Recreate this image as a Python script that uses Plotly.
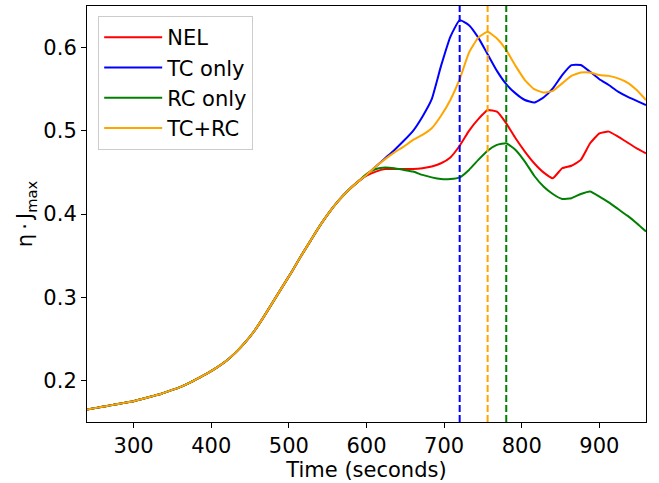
import plotly.graph_objects as go

time_s = [240, 252, 264, 276, 288, 300, 312, 324, 336, 348, 360, 372, 384, 396, 408,
          420, 432, 444, 456, 468, 480, 492, 504, 516, 528, 540, 552, 564, 576, 588,
          600, 612, 624, 636, 648, 660, 672, 684, 696, 708, 720, 732, 744, 756, 768,
          780, 792, 804, 816, 828, 840, 852, 864, 876, 888, 900, 912, 924, 936, 948, 960]

common = [0.165, 0.167, 0.169, 0.171, 0.173, 0.175, 0.178, 0.181, 0.184, 0.188,
          0.192, 0.197, 0.203, 0.209, 0.216, 0.224, 0.234, 0.246, 0.260, 0.277,
          0.295, 0.313, 0.331, 0.350, 0.368, 0.386, 0.402, 0.416, 0.428, 0.438]

nel_tail = [0.446, 0.451, 0.454, 0.454, 0.454, 0.454, 0.455, 0.457, 0.461, 0.468,
            0.482, 0.500, 0.514, 0.525, 0.523, 0.509, 0.491, 0.475, 0.461, 0.450,
            0.443, 0.455, 0.458, 0.465, 0.485, 0.497, 0.499, 0.493, 0.486, 0.479, 0.473]
tc_tail = [0.447, 0.457, 0.467, 0.477, 0.488, 0.500, 0.517, 0.538, 0.578, 0.613,
           0.633, 0.627, 0.612, 0.592, 0.572, 0.556, 0.545, 0.537, 0.534, 0.540,
           0.551, 0.567, 0.579, 0.579, 0.571, 0.562, 0.555, 0.547, 0.541, 0.536, 0.531]
rc_tail = [0.448, 0.454, 0.456, 0.455, 0.453, 0.451, 0.447, 0.444, 0.442, 0.442,
           0.444, 0.453, 0.465, 0.476, 0.483, 0.485, 0.477, 0.463, 0.446, 0.433,
           0.424, 0.418, 0.419, 0.424, 0.427, 0.421, 0.414, 0.406, 0.398, 0.389, 0.379]
tcrc_tail = [0.447, 0.457, 0.466, 0.474, 0.481, 0.489, 0.495, 0.503, 0.518, 0.537,
             0.562, 0.594, 0.612, 0.619, 0.611, 0.597, 0.578, 0.561, 0.550, 0.546,
             0.548, 0.557, 0.566, 0.570, 0.570, 0.567, 0.566, 0.563, 0.558, 0.549, 0.537]

nel = common + nel_tail
tc_only = common + tc_tail
rc_only = common + rc_tail
tc_rc = common + tcrc_tail

series_names = ["NEL", "TC only", "RC only", "TC+RC"]
series_values = [nel, tc_only, rc_only, tc_rc]
series_colors = ["#ff0000", "#0000ff", "#008000", "#ffa500"]

peak_times = [720, 756, 780]
peak_colors = ["#0000ff", "#ffa500", "#008000"]

x_ticks = [300, 400, 500, 600, 700, 800, 900]
y_ticks = [0.2, 0.3, 0.4, 0.5, 0.6]

FONT = "DejaVu Sans"
FS = 21

fig = go.Figure()
for name, vals, col in zip(series_names, series_values, series_colors):
    fig.add_trace(go.Scatter(x=time_s, y=vals, mode="lines", name=name,
                             line=dict(color=col, width=2, shape="spline", smoothing=0.4)))

for t, col in zip(peak_times, peak_colors):
    fig.add_shape(type="line", x0=t, x1=t, y0=0, y1=1, xref="x", yref="paper",
                  line=dict(color=col, width=2, dash="7px,3px"))

axis_common = dict(showline=True, linecolor="black", linewidth=1.1, mirror=True,
                   ticks="outside", ticklen=5, tickwidth=1.1, tickcolor="black",
                   showgrid=False, zeroline=False, automargin=False,
                   tickfont=dict(family=FONT, size=FS, color="black"))

fig.update_xaxes(range=[240, 960], tickvals=x_ticks,
                 title=dict(text="Time (seconds)", font=dict(family=FONT, size=FS, color="black"),
                            standoff=2),
                 **axis_common)
fig.update_yaxes(range=[0.15, 0.65], tickvals=y_ticks, ticktext=[f"{v:.1f}" for v in y_ticks],
                 title=dict(text="η\u2009·\u2009J<sub>max</sub>",
                            font=dict(family=FONT, size=FS, color="black"), standoff=4),
                 **axis_common)

fig.update_layout(
    width=659, height=483,
    margin=dict(l=87, r=13, t=6, b=61),
    paper_bgcolor="white", plot_bgcolor="white",
    font=dict(family=FONT, size=FS, color="black"),
    showlegend=True,
    legend=dict(x=0.02, y=0.976, xanchor="left", yanchor="top",
                bgcolor="rgba(255,255,255,0.8)", bordercolor="#cccccc", borderwidth=1,
                font=dict(family=FONT, size=FS, color="black"),
                itemwidth=58, tracegroupgap=0),
)

fig.write_html("out.html", config={"displayModeBar": False},
               post_script="document.body.style.margin='0';document.body.style.padding='0';")
